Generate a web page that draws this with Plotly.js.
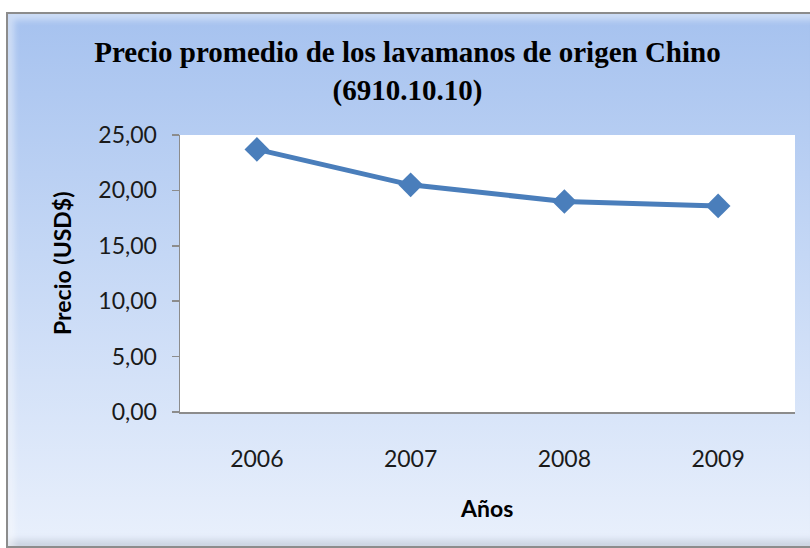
<!DOCTYPE html>
<html>
<head>
<meta charset="utf-8">
<script src="https://cdn.plot.ly/plotly-3.0.1.min.js"></script>
<style>
  html, body { margin:0; padding:0; background:#ffffff; }
  #wrap { position:relative; width:810px; height:548px; overflow:hidden; background:#ffffff; }
  #frame { position:absolute; left:6px; top:12px; width:810px; height:532px;
    border-left:2px solid #8c8c8c; border-top:2px solid #8c8c8c; border-bottom:2px solid #8c8c8c;
    background:linear-gradient(to bottom, #a6c2ef 0%, #c4d7f5 45%, #e9f0fc 100%);
    box-shadow: inset 6px 6px 6px rgba(255,255,255,0.45), inset -2px -6px 6px rgba(120,130,150,0.25); }
  #chart { position:absolute; left:0; top:0; width:810px; height:548px; }
</style>
</head>
<body>
<div id="wrap">
  <div id="frame"></div>
  <div id="chart"></div>
</div>
<script>
const years = ['2006', '2007', '2008', '2009'];
const precio = [23.7, 20.5, 19.0, 18.6];
const yTicks = [0, 5, 10, 15, 20, 25];
const yTickLabels = ['0,00', '5,00', '10,00', '15,00', '20,00', '25,00'];
const chartTitle = 'Precio promedio de los lavamanos de origen Chino<br>(6910.10.10)';
const xTitle = 'Años';
const yTitle = 'Precio (USD$)';

const trace = {
  x: years, y: precio, type: 'scatter', mode: 'lines+markers',
  line: { color: '#4a7ebb', width: 5 },
  marker: { symbol: 'diamond', size: 19, color: '#4a7ebb' },
  hoverinfo: 'x+y'
};

const layout = {
  width: 810, height: 548,
  paper_bgcolor: 'rgba(0,0,0,0)',
  plot_bgcolor: '#ffffff',
  margin: { l: 179.5, r: 14.5, t: 135, b: 136.3 },
  showlegend: false,
  title: {
    text: chartTitle,
    font: { family: 'Liberation Serif, serif', size: 29, color: '#000000', weight: 'bold' },
    x: 0.503, xanchor: 'center',
    yref: 'container', y: 1 - 62/548, yanchor: 'middle'
  },
  xaxis: {
    type: 'category',
    range: [-0.5, 3.5],
    showgrid: false, zeroline: false,
    showline: true, linecolor: '#8c8c8c', linewidth: 1.5,
    ticks: '', ticklabelstandoff: 26,
    tickfont: { family: 'Lato, sans-serif', size: 23, color: '#1a1a1a' }
  },
  yaxis: {
    range: [0, 25],
    tickvals: yTicks, ticktext: yTickLabels,
    showgrid: false, zeroline: false,
    showline: true, linecolor: '#8c8c8c', linewidth: 1.5,
    ticks: 'outside', ticklen: 7, tickcolor: '#8c8c8c', tickwidth: 1.5,
    ticklabelstandoff: 10,
    tickfont: { family: 'Lato, sans-serif', size: 23, color: '#1a1a1a' }
  },
  annotations: [
    { text: yTitle, xref: 'paper', yref: 'paper', x: -0.1907, y: 0.537,
      xanchor: 'center', yanchor: 'middle', textangle: -90, showarrow: false,
      font: { family: 'Lato, sans-serif', size: 23, color: '#000000', weight: 'bold' } },
    { text: xTitle, xref: 'paper', yref: 'paper', x: 0.499, y: -0.348,
      xanchor: 'center', yanchor: 'middle', showarrow: false,
      font: { family: 'Lato, sans-serif', size: 23, color: '#000000', weight: 'bold' } }
  ]
};

Plotly.newPlot('chart', [trace], layout, { displayModeBar: false, staticPlot: true });
</script>
</body>
</html>
